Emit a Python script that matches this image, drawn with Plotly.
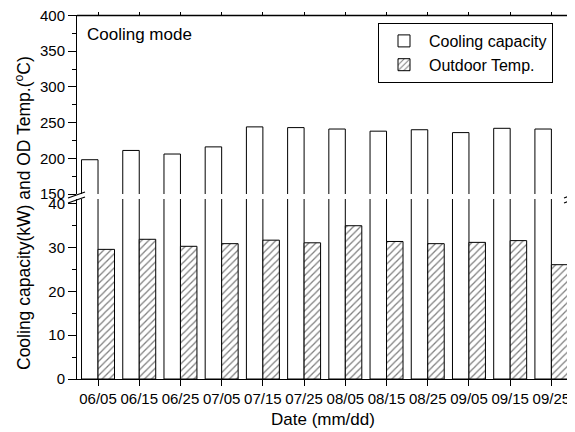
import plotly.graph_objects as go

dates = ["06/05", "06/15", "06/25", "07/05", "07/15", "07/25",
         "08/05", "08/15", "08/25", "09/05", "09/15", "09/25"]
cooling = [198, 211, 206, 216, 244, 243, 241, 238, 240, 236, 242, 241]
outdoor = [29.6, 31.9, 30.3, 30.9, 31.7, 31.1, 35.0, 31.4, 30.9, 31.2, 31.6, 26.1]

FONT = "Arial, Liberation Sans, Helvetica, sans-serif"
OFF = 8  # page body margin
W, H = 575 - OFF, 432 - OFF
L, R, T, B = 77 - OFF, 3, 15 - OFF, 53
PW, PH = W - L - R, H - T - B
XRANGE = [-0.51, 11.5]

def px(x):
    return (x - OFF - L) / PW

def py(y):
    return (H - B - (y - OFF)) / PH

bar_line = dict(color="black", width=1)

fig = go.Figure()
fig.add_trace(go.Bar(x=dates, y=cooling, xaxis="x2", yaxis="y2", name="Cooling capacity",
                     width=0.4, offset=-0.4,
                     marker=dict(color="white", line=bar_line), legendrank=1))
fig.add_trace(go.Bar(x=dates, y=cooling, xaxis="x", yaxis="y", name="Cooling capacity",
                     width=0.4, offset=-0.4, showlegend=False,
                     marker=dict(color="white", line=bar_line)))
fig.add_trace(go.Bar(x=dates, y=outdoor, xaxis="x", yaxis="y", name="Outdoor Temp.",
                     width=0.4, offset=0.0, legendrank=2,
                     marker=dict(color="white", line=bar_line,
                                 pattern=dict(shape="/", fgcolor="black", bgcolor="white",
                                              size=5, solidity=0.25))))

lower_dom = [0, py(199)]
upper_dom = [py(194), py(15.5)]

axis_common = dict(showline=True, linecolor="black", linewidth=1, showgrid=False,
                   zeroline=False, tickcolor="black", automargin=False,
                   ticklabeloverflow="allow",
                   tickfont=dict(family=FONT, size=15, color="black"))
mirror_common = dict(showline=True, linecolor="black", linewidth=1, showgrid=False,
                     zeroline=False, tickcolor="black", automargin=False,
                     showticklabels=False)

fig.update_layout(
    width=W, height=H,
    margin=dict(l=L, r=R, t=T, b=B, pad=0, autoexpand=False),
    plot_bgcolor="white", paper_bgcolor="white",
    barmode="overlay",
    font=dict(family=FONT, color="black"),
    xaxis=dict(**axis_common, type="category", range=XRANGE, anchor="y",
               ticks="outside", ticklen=6),
    xaxis2=dict(**mirror_common, type="category", range=XRANGE, anchor="y2", side="top",
                ticks="outside", ticklen=3),
    yaxis=dict(**axis_common, domain=lower_dom, range=[0, 41.1], anchor="x",
               ticks="outside", ticklen=8, tickvals=[0, 10, 20, 30, 40],
               minor=dict(ticks="outside", ticklen=4, dtick=5, tickcolor="black")),
    yaxis2=dict(**axis_common, domain=upper_dom, range=[150, 400], anchor="x2",
                ticks="outside", ticklen=8, tickvals=[150, 200, 250, 300, 350, 400],
                minor=dict(ticks="outside", ticklen=4, dtick=25, tickcolor="black")),
    yaxis3=dict(**mirror_common, overlaying="y", side="right", anchor="x", range=[0, 41.1],
                ticks="inside", ticklen=6, tickvals=[0, 10, 20, 30, 40],
                minor=dict(ticks="inside", ticklen=3, dtick=5, tickcolor="black")),
    yaxis4=dict(**mirror_common, overlaying="y2", side="right", anchor="x2", range=[150, 400],
                ticks="inside", ticklen=6, tickvals=[150, 200, 250, 300, 350, 400],
                minor=dict(ticks="inside", ticklen=3, dtick=25, tickcolor="black")),
    legend=dict(x=px(553), y=py(23), xanchor="right", yanchor="top",
                bordercolor="black", borderwidth=1, bgcolor="white",
                font=dict(family=FONT, size=16, color="black"),
                tracegroupgap=0, itemwidth=40),
    showlegend=True,
)

fig.add_annotation(text="Cooling capacity(kW) and OD Temp.(<sup>o</sup>C)",
                   xref="paper", yref="paper", x=px(23), y=py(213),
                   xanchor="center", yanchor="middle",
                   textangle=-90, showarrow=False,
                   font=dict(family=FONT, size=17.5, color="black"))
fig.add_annotation(text="Date (mm/dd)", xref="paper", yref="paper",
                   x=px(323), y=py(419), xanchor="center", yanchor="middle", showarrow=False,
                   font=dict(family=FONT, size=17, color="black"))
fig.add_annotation(text="Cooling mode", xref="paper", yref="paper",
                   x=px(85), y=py(34), xanchor="left", yanchor="middle", showarrow=False,
                   font=dict(family=FONT, size=17, color="black"))

# top frame line
fig.add_shape(type="line", xref="paper", yref="paper", x0=0, x1=1,
              y0=py(15.5), y1=py(15.5), line=dict(color="black", width=1.5))

for xa, xb in [(68, 85), (564, 581)]:
    for dy in (0, 5):
        fig.add_shape(type="line", xref="paper", yref="paper",
                      x0=px(xa), y0=py(198 + dy), x1=px(xb), y1=py(192 + dy),
                      line=dict(color="black", width=1.2))

fig.write_html("out.html")
